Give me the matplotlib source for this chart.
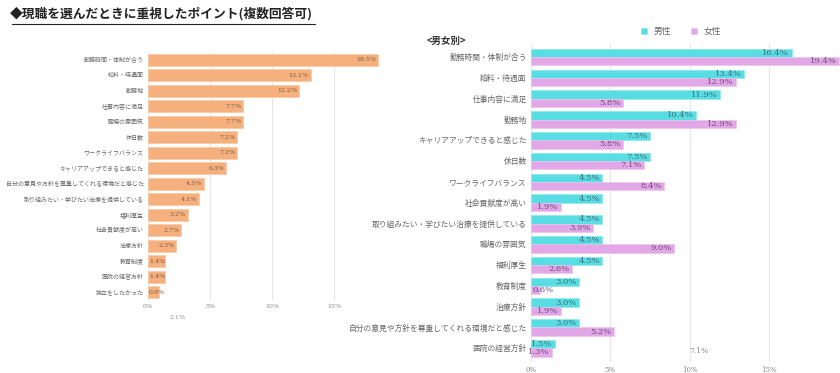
import numpy as np
import matplotlib.pyplot as plt

plt.rcParams['font.family'] = ['Noto Sans CJK JP', 'DejaVu Sans']

# overall (left)
all_labels = ['勤務時間・体制が合う', '給料・待遇面', '勤務地', '仕事内容に満足', '職場の雰囲気',
              '休日数', 'ワークライフバランス', 'キャリアアップできると感じた',
              '自分の意見や方針を尊重してくれる環境だと感じた', '取り組みたい・学びたい治療を提供している',
              '福利厚生', '社会貢献度が高い', '治療方針', '教育制度', '医院の経営方針', '独立をしたかった']
all_vals = [18.5, 13.1, 12.2, 7.7, 7.7, 7.2, 7.2, 6.3, 4.5, 4.1, 3.2, 2.7, 2.3, 1.4, 1.4, 0.9]

# by gender (right)
sex_labels = ['勤務時間・体制が合う', '給料・待遇面', '仕事内容に満足', '勤務地', 'キャリアアップできると感じた',
              '休日数', 'ワークライフバランス', '社会貢献度が高い', '取り組みたい・学びたい治療を提供している',
              '職場の雰囲気', '福利厚生', '教育制度', '治療方針',
              '自分の意見や方針を尊重してくれる環境だと感じた', '医院の経営方針']
male = [16.4, 13.4, 11.9, 10.4, 7.5, 7.5, 4.5, 4.5, 4.5, 4.5, 4.5, 3.0, 3.0, 3.0, 1.5]
female = [19.4, 12.9, 5.8, 12.9, 5.8, 7.1, 8.4, 1.9, 3.9, 9.0, 2.6, 0.6, 1.9, 5.2, 1.3]

ticks = [0, 5, 10, 15]
tick_labels = ['0%', '5%', '10%', '15%']

orange = '#F6B07E'
cyan = '#58DDE2'
pink = '#E2A7E7'
grey = '#666666'


def put_label(ax, v, y, size, color, minw):
    # short bars: label starts at the bar's left edge
    if v < minw:
        ax.text(0.1, y, f'{v}%', ha='left', va='center', fontsize=size,
                color=color, family='DejaVu Serif', zorder=3)
    else:
        ax.text(v - 0.15, y, f'{v}%', ha='right', va='center', fontsize=size,
                color=color, family='DejaVu Serif', zorder=3)


fig = plt.figure(figsize=(8.4, 3.73), dpi=100)
fig.text(0.012, 0.963, '◆現職を選んだときに重視したポイント(複数回答可)', fontsize=9.2,
         fontweight='bold', color='#222222', va='center')
fig.add_artist(plt.Line2D([0.014, 0.375], [0.936, 0.936], color='#222222', lw=0.8))

# ---- left chart
ax1 = fig.add_axes([0.176, 0.196, 0.281, 0.665])
y1 = np.arange(len(all_vals))
ax1.barh(y1, all_vals, height=0.78, color=orange, edgecolor='#F9CBA8', linewidth=0.6, zorder=2)
for y, v in zip(y1, all_vals):
    put_label(ax1, v, y, 4.5, '#7a5a45', 2.0)
ax1.set_ylim(len(all_vals) - 0.5, -0.5)
ax1.set_xlim(0, 19)
ax1.set_yticks(y1)
ax1.set_yticklabels(all_labels, fontsize=4.3, color=grey)
ax1.set_xticks(ticks)
ax1.set_xticklabels(tick_labels, fontsize=4.5, color='#888888', family='DejaVu Serif')
ax1.tick_params(length=0, pad=3)
ax1.grid(axis='x', color='#e6e6e6', lw=0.8, zorder=0)
for s in ax1.spines.values():
    s.set_visible(False)
ax1.text(2.4, 16.65, '2.1%', fontsize=4.5, color='#888888', family='DejaVu Serif',
         ha='center', va='center', clip_on=False)

# ---- right chart
ax2 = fig.add_axes([0.632, 0.03, 0.368, 0.853])
y2 = np.arange(len(male))
h = 0.4
ax2.barh(y2 - h / 2, male, height=h, color=cyan, edgecolor='#8ee8ec', linewidth=0.5, zorder=2, label='男性')
ax2.barh(y2 + h / 2, female, height=h, color=pink, edgecolor='#ecc4ef', linewidth=0.5, zorder=2, label='女性')
for y, m, f in zip(y2, male, female):
    put_label(ax2, m, y - h / 2, 6, '#3d6e78', 1.0)
    put_label(ax2, f, y + h / 2, 6, '#6e4a78', 1.0)
ax2.set_ylim(len(male) - 0.35, -0.65)
ax2.set_xlim(0, 19.45)
ax2.set_yticks(y2)
ax2.set_yticklabels(sex_labels, fontsize=5.6, color=grey)
ax2.set_xticks(ticks)
ax2.set_xticklabels(tick_labels, fontsize=5, color='#888888', family='DejaVu Serif')
ax2.tick_params(length=0, pad=3)
ax2.grid(axis='x', color='#e6e6e6', lw=0.8, zorder=0)
for s in ax2.spines.values():
    s.set_visible(False)
ax2.text(10.6, 14.15, '7.1%', fontsize=5.5, color='#888888', family='DejaVu Serif',
         ha='center', va='center')
ax2.legend(loc='lower left', bbox_to_anchor=(0.33, 1.0), ncol=2, frameon=False, fontsize=6.3,
           handlelength=0.7, handleheight=0.7, columnspacing=2.2, handletextpad=0.8,
           labelcolor=grey)

fig.text(0.508, 0.89, '<男女別>', fontsize=6.8, fontweight='bold', color='#333333', va='center')

fig.savefig('out.png', dpi=100)
